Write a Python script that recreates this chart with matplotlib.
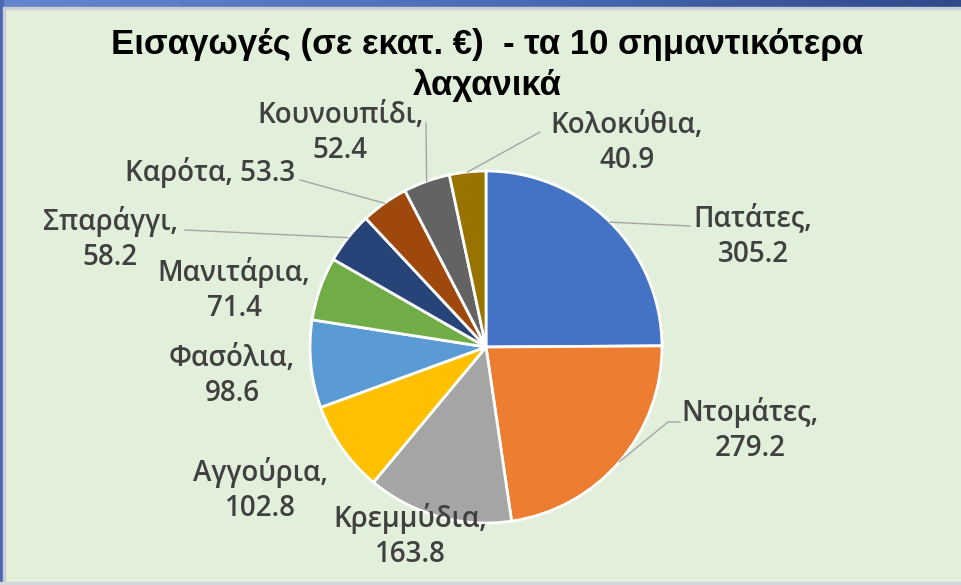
import matplotlib.pyplot as plt
from matplotlib.patches import Rectangle
from matplotlib.colors import LinearSegmentedColormap
import numpy as np

# data
names = ["Πατάτες", "Ντομάτες", "Κρεμμύδια", "Αγγούρια", "Φασόλια",
         "Μανιτάρια", "Σπαράγγι", "Καρότα", "Κουνουπίδι", "Κολοκύθια"]
values = [305.2, 279.2, 163.8, 102.8, 98.6, 71.4, 58.2, 53.3, 52.4, 40.9]
colors = ["#4472C4", "#ED7D31", "#A5A5A5", "#FFC000", "#5B9BD5",
          "#70AD47", "#264478", "#9E480E", "#636363", "#997300"]
title = "Εισαγωγές (σε εκατ. €)  - τα 10 σημαντικότερα\nλαχανικά"

W, H = 961, 585
bg = "#E2EFDA"
txt = "#404040"

fig = plt.figure(figsize=(W / 100, H / 100), dpi=100, facecolor=bg)
ax = fig.add_axes([0, 0, 1, 1])

cx, cy, r = 486, H - 347, 176
wedges, _ = ax.pie(values, colors=colors, startangle=90, counterclock=False,
                   center=(cx, cy), radius=r, frame=True,
                   wedgeprops=dict(edgecolor="white", linewidth=2))
ax.set_xlim(0, W)
ax.set_ylim(0, H)
ax.set_aspect("equal")
ax.axis("off")

# label block centres (pixels from top-left)
label_pos = {
    "Πατάτες": (753, 236), "Ντομάτες": (750, 430), "Κρεμμύδια": (410, 536),
    "Αγγούρια": (260, 490), "Φασόλια": (232, 376), "Μανιτάρια": (234, 290),
    "Σπαράγγι": (110, 239), "Καρότα": (210, 172), "Κουνουπίδι": (340, 133),
    "Κολοκύθια": (627, 143),
}
# leader line end points (near the label), pixels from top-left
leader_end = {
    "Πατάτες": [(690, 226)],
    "Ντομάτες": [(668, 422), (680, 422)],
    "Σπαράγγι": [(185, 230)],
    "Καρότα": [(300, 180)],
    "Κουνουπίδι": [(426, 123)],
    "Κολοκύθια": [(540, 132)],
}

for w, name, v in zip(wedges, names, values):
    lx, ly = label_pos[name]
    sep = " " if name == "Καρότα" else "\n"
    ax.text(lx, H - ly, f"{name},{sep}{v}", ha="center", va="center",
            ma="center", fontsize=20, color=txt, fontweight="semibold",
            family=["Open Sans", "Noto Sans", "DejaVu Sans"], linespacing=1.3)
    if name in leader_end:
        ang = np.deg2rad((w.theta1 + w.theta2) / 2)
        px = [cx + r * np.cos(ang)] + [p[0] for p in leader_end[name]]
        py = [cy + r * np.sin(ang)] + [H - p[1] for p in leader_end[name]]
        ax.plot(px, py, color="#A6A6A6", lw=1)

fig.text(0.507, 1 - 65 / H, title, ha="center", va="center", fontsize=25,
         fontweight="bold", color="black",
         family=["Liberation Sans Narrow", "Liberation Sans", "DejaVu Sans"],
         linespacing=1.3)

# frame: blue gradient bar on top, borders left and bottom
bar = fig.add_axes([0, 1 - 7 / H, 1, 7 / H])
cmap = LinearSegmentedColormap.from_list("bar", ["#6485D0", "#4E6DB8", "#2E4A8C"])
bar.imshow(np.linspace(0, 1, 256)[None, :], aspect="auto", cmap=cmap)
bar.axis("off")
fig.patches.append(Rectangle((0, 1 - 9 / H), 1, 2 / H, transform=fig.transFigure,
                             color="#C9CED3", zorder=5))
fig.patches.append(Rectangle((0, 0), 3 / W, 1, transform=fig.transFigure,
                             color="#4A67B0", zorder=5))
fig.patches.append(Rectangle((3 / W, 0), 2 / W, 1 - 7 / H, transform=fig.transFigure,
                             color="#C9CED3", zorder=5))
fig.patches.append(Rectangle((0, 0), 1, 3 / H, transform=fig.transFigure,
                             color="#D3D7DB", zorder=5))

fig.savefig("out.png", dpi=100, facecolor=bg)
